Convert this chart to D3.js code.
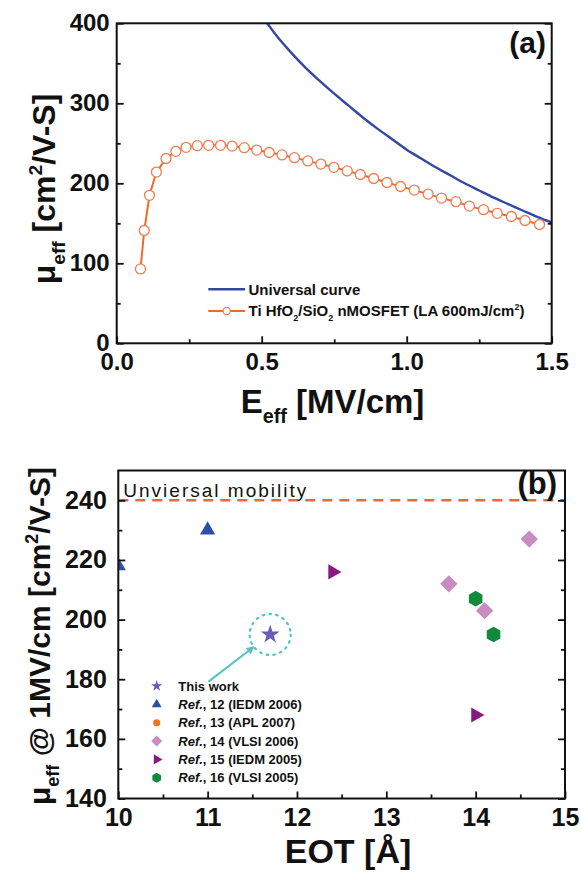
<!DOCTYPE html>
<html>
<head>
<meta charset="utf-8">
<script src="https://cdn.jsdelivr.net/npm/d3@7/dist/d3.min.js"></script>
<style>
  html, body { margin: 0; padding: 0; background: #fff; }
  svg { display: block; font-family: "Liberation Sans", Arial, sans-serif; }
</style>
</head>
<body>
<svg id="fig" width="581" height="872"></svg>
<script>
// ---- Panel (a): effective mobility vs effective field ----
const universalE  = [0.50, 0.55, 0.60, 0.65, 0.70, 0.75, 0.80, 0.85, 0.90, 0.95, 1.00,
                     1.05, 1.10, 1.15, 1.20, 1.25, 1.30, 1.35, 1.40, 1.45, 1.50];
const universalMu = [410, 385, 364, 345, 328, 312, 297, 282, 268, 255, 242,
                     231, 220, 210, 200, 191, 182, 174, 166, 158, 151];

const deviceE  = [0.082, 0.095, 0.113, 0.137, 0.170, 0.204, 0.239, 0.278, 0.317, 0.358,
                  0.398, 0.440, 0.483, 0.526, 0.570, 0.613, 0.659, 0.704, 0.749, 0.795,
                  0.840, 0.886, 0.932, 0.979, 1.026, 1.074, 1.120, 1.170, 1.216, 1.265,
                  1.312, 1.361, 1.408, 1.458];
const deviceMu = [93, 141, 185, 214, 231, 240, 245, 247, 247.5, 247.5,
                  246.5, 244.5, 241.5, 238.5, 235.5, 232, 228, 224, 220, 215.5,
                  211, 206, 201, 196, 191.5, 186.5, 181.5, 177, 171.5, 167,
                  162.5, 158.5, 153.5, 148.5];

const aXTicks = [0, 0.5, 1.0, 1.5];
const aXMinor = [0.25, 0.75, 1.25];
const aYTicks = [0, 100, 200, 300, 400];
const aYMinor = [50, 150, 250, 350];

// ---- Panel (b): mobility at 1 MV/cm vs EOT ----
const thisWorkEOT = [11.7];       const thisWorkMu = [195];
const ref12EOT = [11.0, 10.0];    const ref12Mu = [230, 218];
const ref13EOT = [];              const ref13Mu = [];
const ref14EOT = [13.7, 14.1, 14.6]; const ref14Mu = [212, 203, 227];
const ref15EOT = [12.4, 14.0];    const ref15Mu = [216, 168];
const ref16EOT = [14.0, 14.2];    const ref16Mu = [207, 195];
const universalMobility = 240;
// arrow pointing at this work: [EOT, mu] tail -> head
const arrowTail = [11.01, 179.2];
const arrowHead = [11.51, 190.7];

const bXTicks = [10, 11, 12, 13, 14, 15];
const bXMinor = [10.5, 11.5, 12.5, 13.5, 14.5];
const bYTicks = [140, 160, 180, 200, 220, 240];
const bYMinor = [150, 170, 190, 210, 230];

const legendB = [
  { name: "This work",        ref: "",      key: "star" },
  { name: ", 12 (IEDM 2006)", ref: "Ref.",  key: "ref12" },
  { name: ", 13 (APL 2007)",  ref: "Ref.",  key: "ref13" },
  { name: ", 14 (VLSI 2006)", ref: "Ref.",  key: "ref14" },
  { name: ", 15 (IEDM 2005)", ref: "Ref.",  key: "ref15" },
  { name: ", 16 (VLSI 2005)", ref: "Ref.",  key: "ref16" }
];

const C = {
  blue: "#3448a3", orangeLine: "#ec6a2c", orangeMark: "#ef7d4f",
  star: "#6a5cb6", tri: "#2f4ea8", dot: "#f07024", diamond: "#c98cc2",
  right: "#8a1a7f", hex: "#128a3c", cyan: "#55c3c3", dash: "#ee6a28"
};

const svg = d3.select("#fig");

// rich text with sub/superscripts and italics
function rich(sel, parts, size) {
  let off = 0;
  parts.forEach(p => {
    const target = p.sub ? size * 0.3 : p.sup ? -size * 0.4 : 0;
    const ts = sel.append("tspan").text(p.t).attr("dy", target - off);
    if (p.sub || p.sup) ts.attr("font-size", size * 0.6);
    if (p.italic) ts.attr("font-style", "italic");
    off = target;
  });
  return sel;
}

// hexagon symbol (pointy top)
const symbolHexagon = {
  draw(ctx, size) {
    const r = Math.sqrt(size / (1.5 * Math.sqrt(3)));
    for (let i = 0; i < 6; i++) {
      const a = -Math.PI / 2 + i * Math.PI / 3;
      const x = r * Math.cos(a), y = r * Math.sin(a);
      i ? ctx.lineTo(x, y) : ctx.moveTo(x, y);
    }
    ctx.closePath();
  }
};

function frameAxes(g, x, y, w, h, opt) {
  const xa = g.append("g").attr("transform", `translate(0,${h})`)
    .call(d3.axisBottom(x).tickValues(opt.xTicks).tickFormat(opt.xFmt)
      .tickSize(-7).tickPadding(opt.xPad));
  const xm = g.append("g").attr("transform", `translate(0,${h})`)
    .call(d3.axisBottom(x).tickValues(opt.xMinor).tickFormat("").tickSize(-4));
  const ya = g.append("g")
    .call(d3.axisLeft(y).tickValues(opt.yTicks).tickFormat(opt.yFmt)
      .tickSize(-7).tickPadding(opt.yPad));
  const ym = g.append("g")
    .call(d3.axisLeft(y).tickValues(opt.yMinor).tickFormat("").tickSize(-4));
  const yr = g.append("g").attr("transform", `translate(${w},0)`)
    .call(d3.axisRight(y).tickValues(opt.yTicks).tickFormat("").tickSize(-7));
  const yrm = g.append("g").attr("transform", `translate(${w},0)`)
    .call(d3.axisRight(y).tickValues(opt.yMinor).tickFormat("").tickSize(-4));
  [xa, xm, ya, ym, yr, yrm].forEach(a => {
    a.select(".domain").remove();
    a.selectAll(".tick line").attr("stroke", "#111").attr("stroke-width", 1.8);
    a.selectAll("text").attr("fill", "#111").attr("font-size", opt.fs)
      .attr("font-weight", "bold").attr("font-family", "Liberation Sans, Arial, sans-serif");
  });
  g.append("rect").attr("width", w).attr("height", h)
    .attr("fill", "none").attr("stroke", "#111").attr("stroke-width", 2);
}

// ================= Panel (a) =================
{
  const L = 116.7, R = 551.7, T = 23.3, B = 343.3;
  const w = R - L, h = B - T;
  const g = svg.append("g").attr("transform", `translate(${L},${T})`);
  const x = d3.scaleLinear().domain([0, 1.5]).range([0, w]);
  const y = d3.scaleLinear().domain([0, 400]).range([h, 0]);

  g.append("clipPath").attr("id", "clipA").append("rect").attr("width", w).attr("height", h);
  const plot = g.append("g").attr("clip-path", "url(#clipA)");

  const uni = universalE.map((e, i) => [e, universalMu[i]]);
  plot.append("path").datum(uni)
    .attr("fill", "none").attr("stroke", C.blue).attr("stroke-width", 2.4)
    .attr("d", d3.line().x(d => x(d[0])).y(d => y(d[1])).curve(d3.curveMonotoneX));

  const dev = deviceE.map((e, i) => [e, deviceMu[i]]);
  plot.append("path").datum(dev)
    .attr("fill", "none").attr("stroke", C.orangeLine).attr("stroke-width", 2)
    .attr("d", d3.line().x(d => x(d[0])).y(d => y(d[1])));
  plot.selectAll("circle.dev").data(dev).join("circle").attr("class", "dev")
    .attr("cx", d => x(d[0])).attr("cy", d => y(d[1])).attr("r", 5)
    .attr("fill", "#fff").attr("stroke", C.orangeMark).attr("stroke-width", 1.3);

  frameAxes(g, x, y, w, h, {
    xTicks: aXTicks, xMinor: aXMinor, yTicks: aYTicks, yMinor: aYMinor,
    xFmt: d3.format(".1f"), yFmt: d3.format("d"), xPad: 9.5, yPad: 7, fs: 24
  });

  // legend
  const lg = g.append("g");
  const ly1 = 289.3 - T, ly2 = 311 - T, lx0 = 208.3 - L, lx1 = 245 - L, tx = 248.5 - L;
  lg.append("line").attr("x1", lx0).attr("x2", lx1).attr("y1", ly1).attr("y2", ly1)
    .attr("stroke", C.blue).attr("stroke-width", 2.4);
  lg.append("text").attr("x", tx).attr("y", ly1).attr("dy", "0.36em")
    .attr("font-size", 15).attr("font-weight", "bold").attr("fill", "#111")
    .text("Universal curve");
  lg.append("line").attr("x1", lx0).attr("x2", lx1).attr("y1", ly2).attr("y2", ly2)
    .attr("stroke", C.orangeLine).attr("stroke-width", 2);
  lg.append("circle").attr("cx", (lx0 + lx1) / 2).attr("cy", ly2).attr("r", 3.6)
    .attr("fill", "#fff").attr("stroke", C.orangeMark).attr("stroke-width", 1.2);
  rich(lg.append("text").attr("x", tx).attr("y", ly2 + 5.4)
    .attr("font-size", 15).attr("font-weight", "bold").attr("fill", "#111"),
    [{ t: "Ti HfO" }, { t: "2", sub: true }, { t: "/SiO" }, { t: "2", sub: true },
     { t: " nMOSFET (LA 600mJ/cm" }, { t: "2", sup: true }, { t: ")" }], 15);

  // panel tag
  g.append("text").attr("x", 546 - L).attr("y", 53 - T).attr("text-anchor", "end")
    .attr("font-size", 30).attr("font-weight", "bold").attr("fill", "#111").text("(a)");

  // axis titles
  rich(svg.append("text").attr("x", 332.5).attr("y", 413).attr("text-anchor", "middle")
    .attr("font-size", 33).attr("font-weight", "bold").attr("fill", "#111"),
    [{ t: "E" }, { t: "eff", sub: true }, { t: " [MV/cm]" }], 33);
  rich(svg.append("text").attr("transform", "translate(55,189) rotate(-90)")
    .attr("text-anchor", "middle")
    .attr("font-size", 32).attr("font-weight", "bold").attr("fill", "#111"),
    [{ t: "μ" }, { t: "eff", sub: true }, { t: " [cm" }, { t: "2", sup: true }, { t: "/V-S]" }], 32);
}

// ================= Panel (b) =================
{
  const L = 118.3, R = 565, T = 470.5, B = 798.5;
  const w = R - L, h = B - T;
  const g = svg.append("g").attr("transform", `translate(${L},${T})`);
  const x = d3.scaleLinear().domain([10, 15]).range([0, w]);
  const y = d3.scaleLinear().domain([140, 250]).range([h, 0]);

  g.append("clipPath").attr("id", "clipB").append("rect").attr("width", w).attr("height", h);
  const plot = g.append("g").attr("clip-path", "url(#clipB)");

  // universal mobility reference line
  plot.append("line").attr("x1", 0).attr("x2", w)
    .attr("y1", y(universalMobility)).attr("y2", y(universalMobility))
    .attr("stroke", C.dash).attr("stroke-width", 2.6).attr("stroke-dasharray", "10,7");
  g.append("text").attr("x", 123.3 - L).attr("y", y(universalMobility) - 3.5)
    .attr("font-size", 19).attr("fill", "#111").attr("textLength", 183)
    .attr("lengthAdjust", "spacing").text("Unviersal mobility");

  const sym = {
    star:  { type: d3.symbolStar, size: 110, rot: 0, color: C.star, lsize: 40 },
    ref12: { type: d3.symbolTriangle, size: 100, rot: 0, color: C.tri, lsize: 42 },
    ref13: { type: d3.symbolCircle, size: 50, rot: 0, color: C.dot, lsize: 40 },
    ref14: { type: d3.symbolSquare, size: 150, rot: 45, color: C.diamond, lsize: 60 },
    ref15: { type: d3.symbolTriangle, size: 100, rot: 90, color: C.right, lsize: 44 },
    ref16: { type: symbolHexagon, size: 160, rot: 0, color: C.hex, lsize: 65 }
  };
  const series = [
    ["ref12", ref12EOT, ref12Mu], ["ref13", ref13EOT, ref13Mu],
    ["ref14", ref14EOT, ref14Mu], ["ref15", ref15EOT, ref15Mu],
    ["ref16", ref16EOT, ref16Mu], ["star", thisWorkEOT, thisWorkMu]
  ];
  series.forEach(([key, xs, ys]) => {
    const s = sym[key];
    plot.selectAll("path." + key).data(xs.map((v, i) => [v, ys[i]])).join("path")
      .attr("class", key)
      .attr("transform", d => `translate(${x(d[0])},${y(d[1])}) rotate(${s.rot})`)
      .attr("d", d3.symbol(s.type, s.size)())
      .attr("fill", s.color);
  });

  // highlight ring and arrow for this work
  g.append("circle").attr("cx", x(thisWorkEOT[0])).attr("cy", y(thisWorkMu[0])).attr("r", 20.5)
    .attr("fill", "none").attr("stroke", C.cyan).attr("stroke-width", 2.2)
    .attr("stroke-dasharray", "1.6,5.2").attr("stroke-linecap", "round");
  const defs = svg.append("defs");
  defs.append("marker").attr("id", "arrowHead").attr("viewBox", "0 0 10 10")
    .attr("refX", 8).attr("refY", 5).attr("markerWidth", 4).attr("markerHeight", 4)
    .attr("orient", "auto").attr("markerUnits", "strokeWidth")
    .append("path").attr("d", "M0,0 L10,5 L0,10 Z").attr("fill", C.cyan);
  g.append("line")
    .attr("x1", x(arrowTail[0])).attr("y1", y(arrowTail[1]))
    .attr("x2", x(arrowHead[0])).attr("y2", y(arrowHead[1]))
    .attr("stroke", C.cyan).attr("stroke-width", 2).attr("marker-end", "url(#arrowHead)");

  frameAxes(g, x, y, w, h, {
    xTicks: bXTicks, xMinor: bXMinor, yTicks: bYTicks, yMinor: bYMinor,
    xFmt: d3.format("d"), yFmt: d3.format("d"), xPad: 9.5, yPad: 11.5, fs: 25
  });

  // legend
  const lx = 156.7 - L, tx = 178.3 - L, ly0 = 686 - T, dy = 18.35;
  legendB.forEach((item, i) => {
    const s = sym[item.key];
    const yy = ly0 + i * dy;
    g.append("path")
      .attr("transform", `translate(${lx},${yy}) rotate(${s.rot})`)
      .attr("d", d3.symbol(s.type, s.lsize)()).attr("fill", s.color);
    const t = g.append("text").attr("x", tx).attr("y", yy).attr("dy", "0.36em")
      .attr("font-size", 13).attr("font-weight", "bold").attr("fill", "#111");
    if (item.ref) t.append("tspan").attr("font-style", "italic").text(item.ref);
    t.append("tspan").text(item.name);
  });

  g.append("text").attr("x", 557 - L).attr("y", 494 - T).attr("text-anchor", "end")
    .attr("font-size", 31).attr("font-weight", "bold").attr("fill", "#111").text("(b)");

  svg.append("text").attr("x", 348).attr("y", 863).attr("text-anchor", "middle")
    .attr("font-size", 34).attr("font-weight", "bold").attr("fill", "#111").text("EOT [Å]");
  rich(svg.append("text").attr("transform", "translate(50,636) rotate(-90)")
    .attr("text-anchor", "middle")
    .attr("font-size", 30).attr("font-weight", "bold").attr("fill", "#111"),
    [{ t: "μ" }, { t: "eff", sub: true }, { t: " @ 1MV/cm [cm" }, { t: "2", sup: true }, { t: "/V-S]" }], 30);
}
</script>
</body>
</html>
